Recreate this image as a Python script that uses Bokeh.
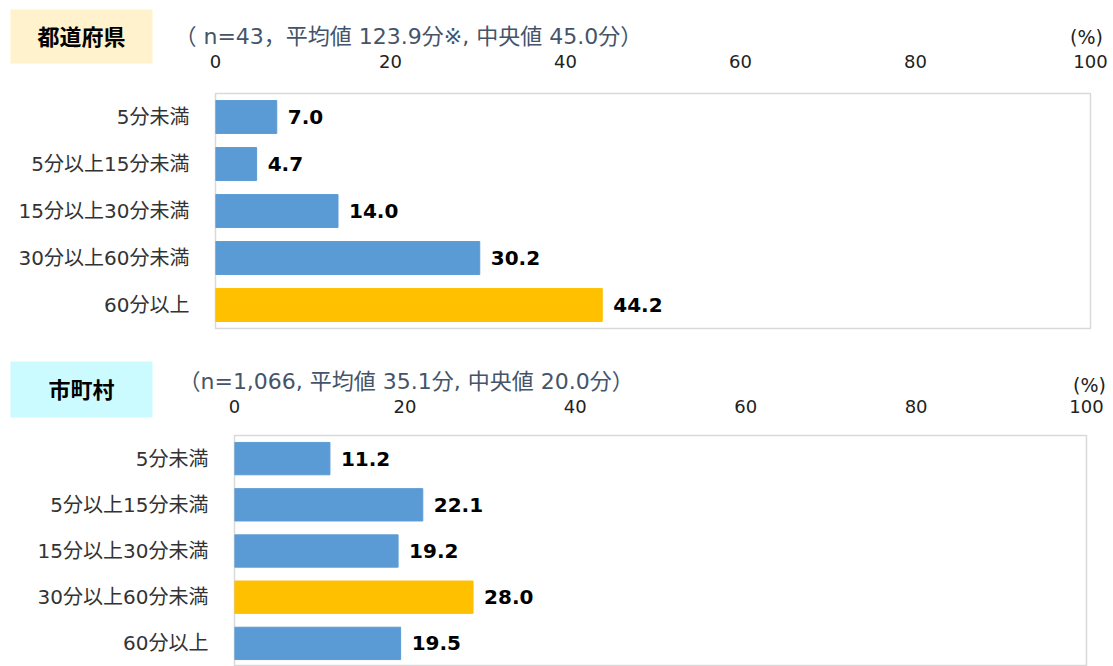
from bokeh.plotting import figure
from bokeh.models import FactorRange, Range1d, FixedTicker, ColumnDataSource
from bokeh.core.properties import value
from bokeh.embed import file_html
from bokeh.resources import INLINE

categories = ["5分未満", "5分以上15分未満", "15分以上30分未満", "30分以上60分未満", "60分以上"]
pref_values = [7.0, 4.7, 14.0, 30.2, 44.2]
muni_values = [11.2, 22.1, 19.2, 28.0, 19.5]
pref_highlight = "60分以上"
muni_highlight = "30分以上60分未満"
x_ticks = [0, 20, 40, 60, 80, 100]
pref_title = "都道府県"
muni_title = "市町村"
pref_stats = "（ n=43，平均値 123.9分※, 中央値 45.0分）"
muni_stats = "（n=1,066, 平均値 35.1分, 中央値 20.0分）"
unit_label = "(%)"

BLUE = "#5B9BD5"
GOLD = "#FFC000"
JP = "Noto Sans CJK JP"
MIX = "DejaVu Sans, Noto Sans CJK JP"
NUM = "DejaVu Sans"


def make_panel(vals, highlight, stats, height, b_left, b_right, b_top, b_bottom,
               stats_offset, tick_standoff):
    p = figure(width=1113, height=height, output_backend="svg", toolbar_location=None,
               y_range=FactorRange(*reversed(categories), range_padding=0),
               x_range=Range1d(0, 100), x_axis_location="above",
               min_border_left=b_left, min_border_right=b_right,
               min_border_top=b_top, min_border_bottom=b_bottom)
    colors = [GOLD if c == highlight else BLUE for c in categories]
    labels = [f"{v:.1f}" for v in vals]
    src = ColumnDataSource(dict(cat=categories, val=vals, color=colors, label=labels))
    p.hbar(y="cat", right="val", left=0, height=0.7, fill_color="color", line_color="color",
           source=src)
    p.text(x="val", y="cat", text="label", source=src, x_offset=11,
           text_baseline="middle", text_align="left", text_font=value(NUM),
           text_font_style="bold", text_font_size="20px", text_color="#000000")

    p.xgrid.visible = False
    p.ygrid.visible = False
    p.outline_line_color = "#D9D9D9"
    p.outline_line_width = 1.5
    p.background_fill_color = "white"
    p.border_fill_color = "white"

    xa = p.xaxis[0]
    xa.ticker = FixedTicker(ticks=x_ticks)
    xa.axis_line_color = None
    xa.major_tick_line_color = None
    xa.minor_tick_line_color = None
    xa.major_label_text_font = NUM
    xa.major_label_text_font_size = "18px"
    xa.major_label_text_color = "#222222"
    xa.major_label_standoff = tick_standoff

    ya = p.yaxis[0]
    ya.axis_line_color = None
    ya.major_tick_line_color = None
    ya.minor_tick_line_color = None
    ya.major_label_text_font = MIX
    ya.major_label_text_font_size = "20px"
    ya.major_label_text_color = "#333333"
    ya.major_label_standoff = 20

    p.title.text = stats
    p.title.align = "left"
    p.title.offset = stats_offset
    p.title.text_font = MIX
    p.title.text_font_size = "22px"
    p.title.text_font_style = "normal"
    p.title.text_color = "#44546A"
    p.title.standoff = 6
    return p


p1 = make_panel(pref_values, pref_highlight, pref_stats, 340, 215, 23, 93, 12, -41, 20)
p2 = make_panel(muni_values, muni_highlight, muni_stats, 326, 234, 27, 95, 0, -56, 17)

# transparent overlay for the header boxes and unit labels (page-pixel layout)
ov = figure(width=1113, height=666, output_backend="svg", toolbar_location=None,
            x_range=Range1d(0, 1113), y_range=Range1d(666, 0),
            x_axis_type=None, y_axis_type=None, min_border=0,
            background_fill_color=None, border_fill_color=None, outline_line_color=None)
ov.grid.visible = False
ov.styles = {"position": "absolute", "left": "0px", "top": "0px", "pointer-events": "none"}
ov.quad(left=[10, 10], right=[152, 152], top=[9, 361], bottom=[63, 417],
        fill_color=["#FFF2CC", "#CCFBFF"], line_color=None)
ov.text(x=[81, 81], y=[34, 387], text=[pref_title, muni_title], text_align="center",
        text_baseline="middle", text_font=value(JP), text_font_style="bold",
        text_font_size="22px", text_color="#000000")
ov.text(x=[1086, 1089], y=[36, 384], text=[unit_label, unit_label], text_align="center",
        text_baseline="middle", text_font=value(NUM), text_font_size="19px",
        text_color="#222222")

open("out.html", "w").write(file_html([p1, p2, ov], INLINE))
